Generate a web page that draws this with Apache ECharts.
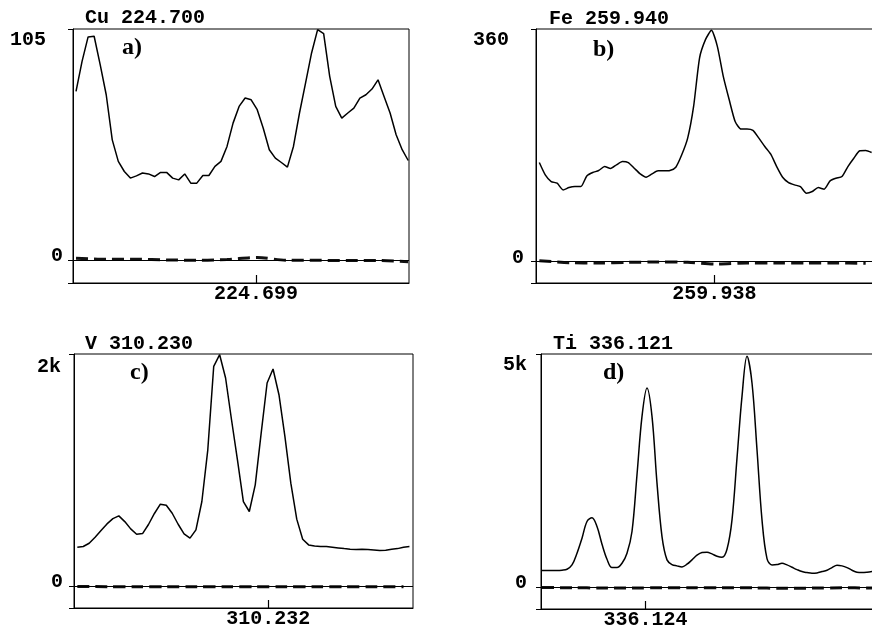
<!DOCTYPE html>
<html>
<head>
<meta charset="utf-8">
<script src="https://cdn.jsdelivr.net/npm/echarts@6/dist/echarts.min.js"></script>
<style>
  html, body { margin: 0; padding: 0; background: #fff; }
  #chart { width: 872px; height: 626px; }
</style>
</head>
<body>
<div id="chart"></div>
<script>
// Emission line scans: four elements, signal trace plus dashed blank trace.
const panelTitles = ['Cu 224.700', 'Fe 259.940', 'V 310.230', 'Ti 336.121'];
const panelTags = ['a)', 'b)', 'c)', 'd)'];
const topLabels = ['105', '360', '2k', '5k'];
const yTop = [105, 360, 2000, 5000];
const tickWavelengths = [224.699, 259.938, 310.232, 336.124];
const tickLabels = ['224.699', '259.938', '310.232', '336.124'];
const firstWavelength = [224.69602, 259.93505, 310.22878, 336.12193];
const sampleStep = 0.0001;
const blankEvery = [5, 5, 5, 6];

const cuIntensity = [76.6, 90.3, 101.4, 101.7, 88.8, 75.1, 54.6, 44.8, 40.2, 37.2,
  38.2, 39.5, 39.1, 37.9, 39.8, 39.8, 37.2, 36.4, 39.1, 34.9,
  34.9, 38.4, 38.4, 42.5, 44.8, 51.6, 62.2, 69.8, 73.6, 72.8,
  68.3, 59.9, 50.1, 46.3, 44.3, 42.2, 51.6, 66.8, 80.4, 94.1,
  104.7, 102.9, 83.5, 69.8, 64.5, 66.8, 69.0, 73.6, 75.1, 77.7,
  81.9, 74.3, 66.8, 56.9, 50.1, 45.2];
const cuBlank = [0.8, 0.3, 0.3, 0, -0.2, 0.2, 1.1, -0.2, -0.2, -0.3, -0.3, -0.8];

const feIntensity = [153.4, 134.3, 124.0, 121.4, 111.0, 114.7, 116.2, 116.2, 132.7, 137.9,
  141.0, 147.2, 144.1, 149.8, 155.0, 153.4, 144.6, 135.8, 130.7, 135.8,
  140.5, 140.5, 141.0, 146.2, 165.3, 191.1, 240.2, 315.1, 343.5, 357.9,
  333.1, 286.7, 250.5, 216.9, 205.1, 205.1, 203.0, 191.1, 178.2, 166.3,
  147.2, 130.7, 122.4, 118.8, 116.2, 105.9, 108.5, 114.7, 112.1, 125.0,
  129.1, 131.7, 147.2, 160.1, 171.5, 172.0, 168.9];
const feBlank = [1.5, -1.5, -2, -1, -0.5, -1, -3.6, -2, -2, -2, -2, -2.6];

const vIntensity = [334, 340, 368, 420, 478, 535, 581, 604, 555, 492,
  446, 452, 530, 625, 705, 696, 627, 532, 449, 412,
  484, 728, 1174, 1894, 1994, 1793, 1433, 1088, 728, 642,
  872, 1318, 1750, 1871, 1649, 1289, 886, 576, 403, 354,
  345, 340, 340, 334, 328, 322, 317, 314, 317, 314,
  311, 305, 308, 317, 322, 334, 340];
const vBlank = [-4, -6, -6, -7, -6, -6, -7, -6, -6, -7, -6, -6];

const tiIntensity = [358, 358, 358, 358, 365, 386, 479, 730, 1052, 1409,
  1488, 1302, 923, 601, 422, 422, 515, 730, 1195, 2411,
  3662, 4270, 3662, 2232, 1087, 587, 486, 458, 436, 494,
  587, 687, 744, 751, 715, 665, 644, 815, 1445, 2768,
  4092, 4950, 4378, 2947, 1445, 615, 479, 486, 515, 479,
  429, 379, 336, 315, 300, 308, 336, 365, 422, 472,
  458, 422, 365, 322, 315, 322, 336];
const tiBlank = [-5, -10, -15, -15, -10, -10, -8, -12, -22, -18, -12, -15];

const intensities = [cuIntensity, feIntensity, vIntensity, tiIntensity];
const blanks = [cuBlank, feBlank, vBlank, tiBlank];

const MONO = '"Liberation Mono", "DejaVu Sans Mono", monospace';
const SERIF = '"Liberation Serif", "DejaVu Serif", serif';

// Frame geometry and label placement for each panel
const layouts = [
  { grid: { left: 73, top: 29, width: 336, height: 254 }, yMin: -10.5, span: [-0.5, 55.13],
    labelMargin: 10, padTop: 22, padRight: 17, title: [85, 18], tag: [122, 48], smooth: false },
  { grid: { left: 536, top: 29, width: 338, height: 254 }, yMin: -33, span: [-0.56, 56.4],
    labelMargin: 12, padTop: 22, padRight: 15, title: [549, 19], tag: [593, 50], smooth: 0.2 },
  { grid: { left: 74, top: 354, width: 339, height: 254 }, yMin: -190, span: [-0.56, 56.6],
    labelMargin: 11, padTop: 26, padRight: 2, title: [85, 344], tag: [130, 373], smooth: false },
  { grid: { left: 541, top: 354, width: 339, height: 255 }, yMin: -466, span: [-0.2, 67.6],
    labelMargin: 14, padTop: 22, padRight: 0, title: [553, 344], tag: [603, 373], smooth: 0.35 }
];

const black = '#000';

const option = {
  backgroundColor: '#fff',
  animation: false,
  grid: layouts.map(l => Object.assign({}, l.grid, {
    show: true, borderColor: black, borderWidth: 1, backgroundColor: 'transparent',
    containLabel: false, outerBoundsMode: 'none'
  })),
  xAxis: layouts.map((l, k) => ({
    type: 'value',
    gridIndex: k,
    min: firstWavelength[k] + l.span[0] * sampleStep,
    max: firstWavelength[k] + l.span[1] * sampleStep,
    axisLine: { show: true, onZero: false, lineStyle: { color: black, width: 1 } },
    axisTick: { show: true, inside: true, length: 8, customValues: [tickWavelengths[k]],
      lineStyle: { color: black, width: 1.2 } },
    axisLabel: { show: true, customValues: [tickWavelengths[k]], formatter: () => tickLabels[k],
      color: black, fontFamily: MONO, fontSize: 20, fontWeight: 'bold', margin: 1 },
    splitLine: { show: false }
  })),
  yAxis: layouts.map((l, k) => ({
    type: 'value',
    gridIndex: k,
    min: l.yMin,
    max: yTop[k],
    axisLine: { show: true, onZero: false, lineStyle: { color: black, width: 1 } },
    axisTick: { show: true, inside: false, length: 5, customValues: [l.yMin, 0, yTop[k]],
      lineStyle: { color: black, width: 1 } },
    axisLabel: {
      show: true,
      customValues: [0, yTop[k]],
      margin: l.labelMargin,
      formatter: v => (v === 0 ? '{z|0}' : '{t|' + topLabels[k] + '}'),
      rich: {
        z: { fontFamily: MONO, fontSize: 20, fontWeight: 'bold', color: black, padding: [0, 0, 8, 0] },
        t: { fontFamily: MONO, fontSize: 20, fontWeight: 'bold', color: black, padding: [l.padTop, l.padRight, 0, 0] }
      }
    },
    splitLine: { show: false }
  })),
  series: [].concat(...layouts.map((l, k) => [
    {
      type: 'line',
      xAxisIndex: k,
      yAxisIndex: k,
      data: intensities[k].map((v, i) => [firstWavelength[k] + i * sampleStep, v]),
      showSymbol: false,
      symbol: 'none',
      smooth: l.smooth,
      lineStyle: { color: black, width: 1.5 },
      silent: true,
      markLine: {
        silent: true,
        symbol: ['none', 'none'],
        label: { show: false },
        lineStyle: { color: black, width: 1, type: 'solid' },
        data: [{ yAxis: 0 }]
      }
    },
    {
      type: 'line',
      xAxisIndex: k,
      yAxisIndex: k,
      data: blanks[k].map((v, j) => [firstWavelength[k] + j * blankEvery[k] * sampleStep, v]),
      showSymbol: false,
      symbol: 'none',
      smooth: 0.3,
      lineStyle: { color: '#111', width: 3, type: [12, 6] },
      silent: true
    }
  ])),
  graphic: [].concat(
    layouts.map((l, k) => ({
      type: 'text', x: l.title[0], y: l.title[1],
      style: { text: panelTitles[k], font: 'bold 20px ' + MONO, fill: black, verticalAlign: 'middle' }
    })),
    layouts.map((l, k) => ({
      type: 'text', x: l.tag[0], y: l.tag[1],
      style: { text: panelTags[k], font: 'bold 24px ' + SERIF, fill: black, verticalAlign: 'middle' }
    }))
  )
};

const chart = echarts.init(document.getElementById('chart'));
chart.setOption(option);
</script>
</body>
</html>
